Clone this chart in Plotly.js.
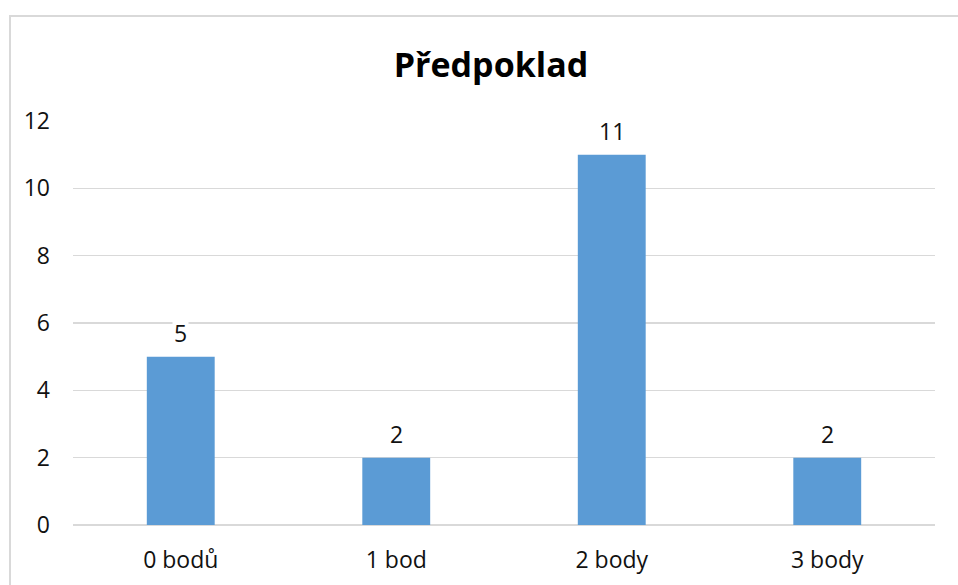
<!DOCTYPE html>
<html>
<head>
<meta charset="utf-8">
<script src="https://cdn.plot.ly/plotly-3.0.1.min.js"></script>
<style>
html,body{margin:0;padding:0;background:#fff;overflow:hidden;width:958px;height:585px}
#wrap{position:relative;width:958px;height:585px;overflow:hidden}
#frameTop{position:absolute;left:9px;top:15px;width:949px;height:0;border-top:2px solid #D9D9D9;pointer-events:none;z-index:5}
#frameLeft{position:absolute;left:9px;top:15px;width:0;height:570px;border-left:2px solid #D9D9D9;pointer-events:none;z-index:5}
</style>
</head>
<body>
<div id="wrap">
<div id="chart" style="width:958px;height:585px"></div>
<div id="frameTop"></div>
<div id="frameLeft"></div>
</div>
<script>
const categories = ["0 bodů", "1 bod", "2 body", "3 body"];
const values = [5, 2, 11, 2];
const tickValues = [0, 2, 4, 6, 8, 10, 12];

const font = "Open Sans, Liberation Sans, sans-serif";
const trace = {
  type: "bar",
  x: categories,
  y: values,
  marker: {color: "#5B9BD5"},
  hoverinfo: "none"
};

const labels = categories.map((c, i) => ({
  x: c, y: values[i], xref: "x", yref: "y",
  text: String(values[i]), showarrow: false,
  yanchor: "bottom", yshift: 6,
  bgcolor: "#fff", borderpad: 1,
  font: {family: font, size: 23, color: "#111"}
}));

const layout = {
  width: 958, height: 585,
  margin: {l: 73, r: 23, t: 121, b: 60},
  paper_bgcolor: "#fff", plot_bgcolor: "#fff",
  showlegend: false,
  bargap: 0.685,
  title: {
    text: "<b>Předpoklad</b>",
    font: {family: font, size: 34, color: "#000"},
    xref: "container", yref: "container",
    x: 0.5125, y: 0.889, xanchor: "center", yanchor: "middle"
  },
  xaxis: {
    type: "category",
    showgrid: false, zeroline: false, showline: false,
    ticks: "", ticklabelstandoff: 19,
    tickfont: {family: font, size: 23, color: "#111"}
  },
  yaxis: {
    range: [0, 12],
    tickvals: tickValues,
    ticktext: tickValues.map(String),
    showgrid: true, gridcolor: "#D9D9D9", gridwidth: 1.5,
    zeroline: true, zerolinecolor: "#D9D9D9", zerolinewidth: 1.5,
    showline: false, ticks: "", ticklabelstandoff: 22,
    tickfont: {family: font, size: 23, color: "#111"}
  },
  annotations: labels
};

Plotly.newPlot("chart", [trace], layout, {displayModeBar: false, staticPlot: true});
</script>
</body>
</html>
